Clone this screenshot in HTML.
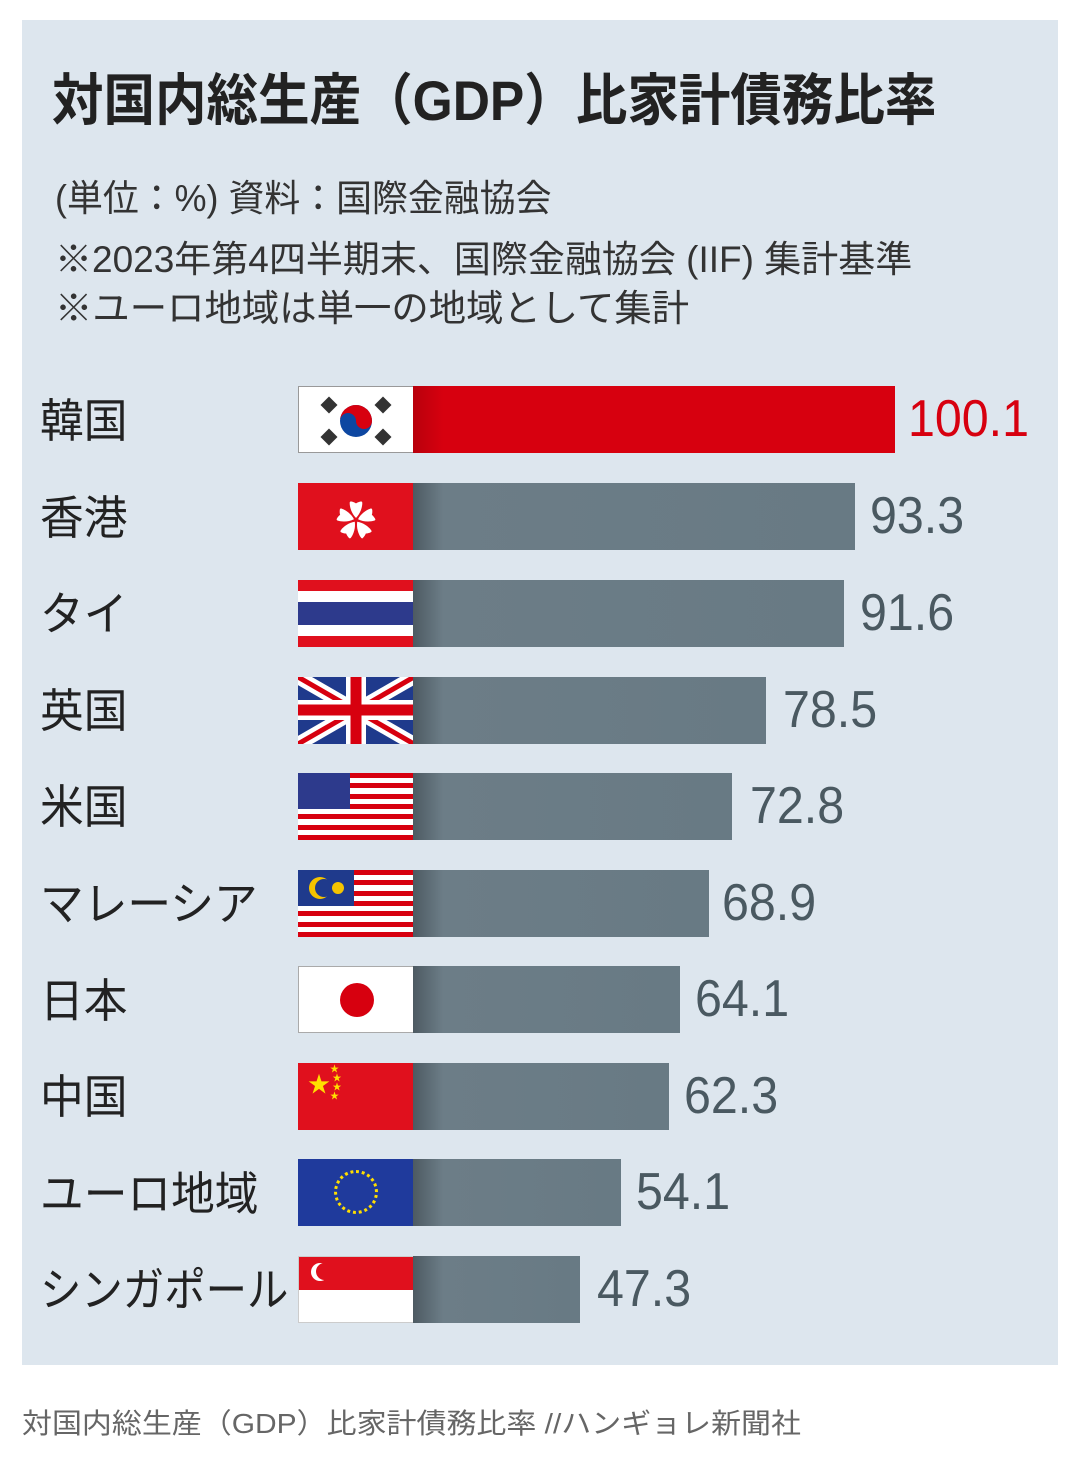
<!DOCTYPE html>
<html><head><meta charset="utf-8"><style>
*{margin:0;padding:0;box-sizing:border-box}
body{width:1080px;height:1474px;background:#fff;position:relative;overflow:hidden;font-family:"Liberation Sans","Noto Sans CJK JP",sans-serif}
.panel{position:absolute;left:22px;top:20px;width:1036px;height:1345px;background:#dde6ee}
.t{position:absolute;white-space:nowrap;transform-origin:0 0;color:#222}
.bar{position:absolute;left:413px;height:67px;background:linear-gradient(90deg,#4d5a62 0,#6c7d87 30px,#687a84 100%)}
.flag{position:absolute;left:298px;width:116px;height:67px;overflow:hidden}
.lab{position:absolute;left:40px;font-size:46px;color:#222;white-space:nowrap;transform:scaleX(.95);transform-origin:0 0}
.val{position:absolute;font-size:52px;color:#4a5961;white-space:nowrap;transform:scaleX(.93);transform-origin:0 0}
</style></head><body>
<div class="panel"></div>
<div class="t" style="left:52px;top:56px;font-size:56px;font-weight:bold;transform:scaleX(.92)">対国内総生産（GDP）比家計債務比率</div>
<div class="t" style="left:55px;top:168px;font-size:37px;color:#333;transform:scaleX(.97)">(単位：%) 資料：国際金融協会</div>
<div class="t" style="left:55px;top:229px;font-size:37px;color:#333;transform:scaleX(1.0)">※2023年第4四半期末、国際金融協会 (IIF) 集計基準</div>
<div class="t" style="left:55px;top:278px;font-size:37px;color:#333;transform:scaleX(1.01)">※ユーロ地域は単一の地域として集計</div>

<div class="lab" style="top:385px">韓国</div>
<div class="flag" style="top:386px;border:1px solid #999"><svg width="116" height="67"><rect width="116" height="67" fill="#fff"/><circle cx="57" cy="34" r="16" fill="#0d47a1"/><path d="M41 34a16 16 0 0 1 32 0a8 8 0 0 1-16 0a8 8 0 0 0-16 0z" fill="#d7000f"/><g fill="#333"><rect x="24" y="12" width="12" height="12" transform="rotate(45 30 18)"/><rect x="78" y="12" width="12" height="12" transform="rotate(-45 84 18)"/><rect x="24" y="44" width="12" height="12" transform="rotate(-45 30 50)"/><rect x="78" y="44" width="12" height="12" transform="rotate(45 84 50)"/></g></svg></div>
<div class="bar" style="top:386px;width:482px;background:linear-gradient(90deg,#b8000c 0,#d7000f 30px,#d7000f)"></div>
<div class="val" style="top:389px;left:908px;color:#d7000f">100.1</div>

<div class="lab" style="top:482px">香港</div>
<div class="flag" style="top:483px;background:#e0101d"><span style="position:absolute;left:38px;top:6px;font-size:40px;color:#fff">✿</span></div>
<div class="bar" style="top:483px;width:442px"></div>
<div class="val" style="top:486px;left:870px">93.3</div>

<div class="lab" style="top:578px">タイ</div>
<div class="flag" style="top:580px"><svg width="116" height="67"><rect width="116" height="67" fill="#e0101d"/><rect y="11" width="116" height="45" fill="#fff"/><rect y="22" width="116" height="23" fill="#2d3a8c"/></svg></div>
<div class="bar" style="top:580px;width:431px"></div>
<div class="val" style="top:583px;left:860px">91.6</div>

<div class="lab" style="top:675px">英国</div>
<div class="flag" style="top:677px"><svg width="116" height="67"><rect width="116" height="67" fill="#1f3a8c"/><path d="M0 0L116 67M116 0L0 67" stroke="#fff" stroke-width="14"/><path d="M0 0L116 67M116 0L0 67" stroke="#d7000f" stroke-width="5"/><path d="M58 0V67M0 33H116" stroke="#fff" stroke-width="20"/><path d="M58 0V67M0 33H116" stroke="#d7000f" stroke-width="11"/></svg></div>
<div class="bar" style="top:677px;width:353px"></div>
<div class="val" style="top:680px;left:783px">78.5</div>

<div class="lab" style="top:771px">米国</div>
<div class="flag" style="top:773px"><svg width="116" height="67"><rect width="116" height="67" fill="#fff"/><g fill="#d7000f"><rect y="0" width="116" height="5"/><rect y="10" width="116" height="5"/><rect y="21" width="116" height="5"/><rect y="31" width="116" height="5"/><rect y="41" width="116" height="5"/><rect y="52" width="116" height="5"/><rect y="62" width="116" height="5"/></g><rect width="52" height="36" fill="#2d3a8c"/></svg></div>
<div class="bar" style="top:773px;width:319px"></div>
<div class="val" style="top:776px;left:750px">72.8</div>

<div class="lab" style="top:868px">マレーシア</div>
<div class="flag" style="top:870px"><svg width="116" height="67"><rect width="116" height="67" fill="#fff"/><g fill="#d7000f"><rect y="0" width="116" height="5"/><rect y="10" width="116" height="5"/><rect y="21" width="116" height="5"/><rect y="31" width="116" height="5"/><rect y="41" width="116" height="5"/><rect y="52" width="116" height="5"/><rect y="62" width="116" height="5"/></g><rect width="56" height="36" fill="#1f3a8c"/><circle cx="22" cy="18" r="11" fill="#f5c400"/><circle cx="26" cy="18" r="9" fill="#1f3a8c"/><circle cx="40" cy="18" r="6" fill="#f5c400"/></svg></div>
<div class="bar" style="top:870px;width:296px"></div>
<div class="val" style="top:873px;left:722px">68.9</div>

<div class="lab" style="top:965px">日本</div>
<div class="flag" style="top:966px;background:#fff;border:1px solid #aaa"><div style="position:absolute;left:41px;top:16px;width:34px;height:34px;border-radius:50%;background:#d7000f"></div></div>
<div class="bar" style="top:966px;width:267px"></div>
<div class="val" style="top:969px;left:695px">64.1</div>

<div class="lab" style="top:1061px">中国</div>
<div class="flag" style="top:1063px;background:#e0101d"><span style="position:absolute;left:10px;top:4px;font-size:22px;color:#ffde00">★</span><span style="position:absolute;left:32px;top:2px;font-size:9px;color:#ffde00;line-height:9px">★<br>&nbsp;★<br>&nbsp;★<br>★</span></div>
<div class="bar" style="top:1063px;width:256px"></div>
<div class="val" style="top:1066px;left:684px">62.3</div>

<div class="lab" style="top:1158px">ユーロ地域</div>
<div class="flag" style="top:1159px;background:#1f3a9c"><div style="position:absolute;left:36px;top:11px;width:44px;height:44px;border-radius:50%;border:3px dotted #ffde00"></div></div>
<div class="bar" style="top:1159px;width:208px"></div>
<div class="val" style="top:1162px;left:636px">54.1</div>

<div class="lab" style="top:1254px;transform:scaleX(.9)">シンガポール</div>
<div class="flag" style="top:1256px;background:#fff;border:1px solid #ccc"><div style="height:33px;background:#e0101d"></div><div style="position:absolute;left:12px;top:6px;width:18px;height:18px;border-radius:50%;background:#fff"></div><div style="position:absolute;left:17px;top:6px;width:17px;height:17px;border-radius:50%;background:#e0101d"></div></div>
<div class="bar" style="top:1256px;width:167px"></div>
<div class="val" style="top:1259px;left:597px">47.3</div>

<div class="t" style="left:22px;top:1402px;font-size:28px;color:#666;transform:scaleX(1.07)">対国内総生産（GDP）比家計債務比率 //ハンギョレ新聞社</div>
</body></html>
